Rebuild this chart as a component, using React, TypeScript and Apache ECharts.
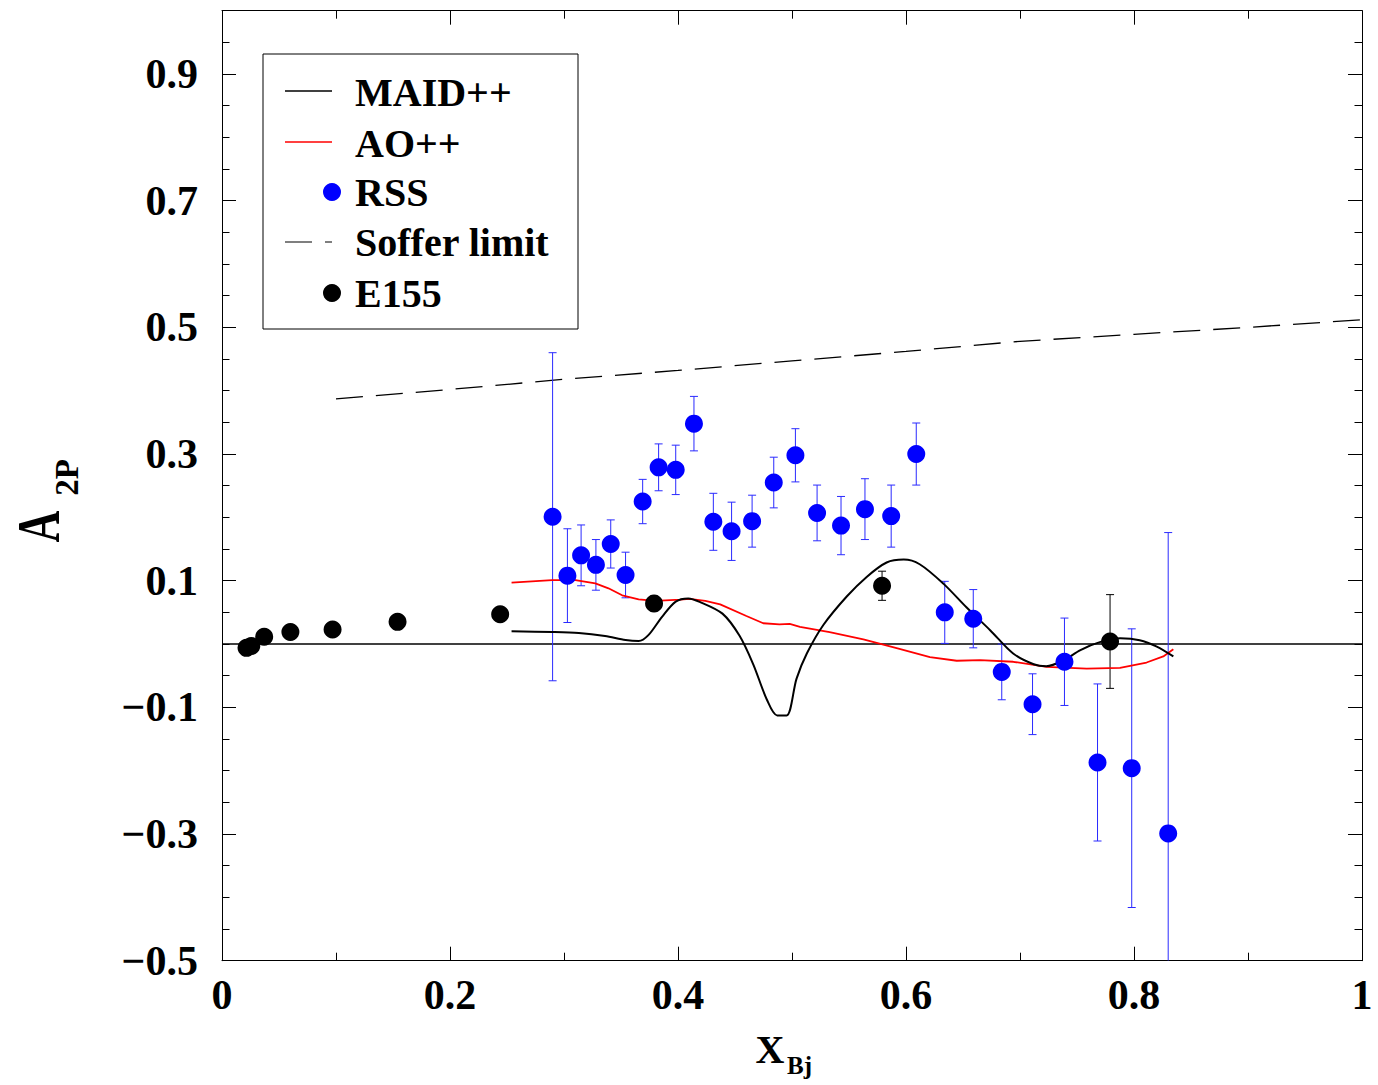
import React, { useEffect, useRef } from "react";
import * as echarts from "echarts";

// ---- tick labels ----
const xTickStep = 0.2;
const yTickLabels = [-0.5, -0.3, -0.1, 0.1, 0.3, 0.5, 0.7, 0.9];

// ---- RSS data ----
const rssX = [0.29, 0.303, 0.315, 0.328, 0.341, 0.354, 0.369, 0.383, 0.398, 0.414, 0.431, 0.447, 0.465, 0.484, 0.503, 0.522, 0.543, 0.564, 0.587, 0.609, 0.634, 0.659, 0.684, 0.711, 0.739, 0.768, 0.798, 0.83];
const rssY = [0.201, 0.108, 0.14, 0.125, 0.158, 0.109, 0.225, 0.279, 0.275, 0.348, 0.193, 0.178, 0.194, 0.255, 0.298, 0.207, 0.187, 0.213, 0.202, 0.3, 0.05, 0.04, -0.044, -0.095, -0.028, -0.187, -0.196, -0.299];
const rssErr = [0.259, 0.074, 0.048, 0.04, 0.038, 0.036, 0.035, 0.037, 0.039, 0.043, 0.045, 0.046, 0.041, 0.04, 0.042, 0.044, 0.046, 0.048, 0.049, 0.049, 0.049, 0.046, 0.044, 0.048, 0.069, 0.124, 0.22, 0.475];

// ---- E155 data ----
const e155X = [0.0215, 0.0257, 0.037, 0.06, 0.097, 0.154, 0.244, 0.379, 0.579, 0.779];
const e155Y = [-0.006, -0.003, 0.0115, 0.019, 0.023, 0.035, 0.047, 0.064, 0.092, 0.004];
const e155Err = [0.004, 0.004, 0.005, 0.006, 0.007, 0.008, 0.01, 0.012, 0.023, 0.074];

// ---- MAID++ curve ----
const maidX = [0.254, 0.29, 0.313, 0.336, 0.354, 0.3655, 0.374, 0.386, 0.398, 0.409, 0.419, 0.439, 0.454, 0.466, 0.478, 0.487, 0.4953, 0.504, 0.513, 0.5275, 0.548, 0.5655, 0.583, 0.598, 0.612, 0.633, 0.653, 0.674, 0.694, 0.712, 0.723, 0.738, 0.753, 0.77, 0.788, 0.805, 0.82, 0.8345];
const maidY = [0.02, 0.019, 0.0174, 0.0126, 0.0063, 0.0047, 0.014, 0.043, 0.067, 0.072, 0.0666, 0.048, 0.013, -0.032, -0.088, -0.1127, -0.1127, -0.0546, -0.015, 0.03, 0.075, 0.106, 0.1287, 0.1333, 0.126, 0.095, 0.058, 0.0215, -0.015, -0.032, -0.035, -0.026, -0.0095, 0.003, 0.009, 0.006, -0.004, -0.0196];

// ---- AO++ curve ----
const aoX = [0.254, 0.2895, 0.31, 0.3275, 0.339, 0.351, 0.3655, 0.38, 0.402, 0.41, 0.424, 0.437, 0.46, 0.4748, 0.489, 0.498, 0.507, 0.533, 0.5626, 0.5918, 0.621, 0.6445, 0.665, 0.694, 0.7234, 0.7585, 0.7877, 0.811, 0.8257, 0.8345];
const aoY = [0.097, 0.101, 0.101, 0.0958, 0.088, 0.077, 0.0705, 0.068, 0.07, 0.0712, 0.068, 0.0627, 0.0442, 0.0328, 0.031, 0.0317, 0.0272, 0.0188, 0.0075, -0.0066, -0.0207, -0.0264, -0.0253, -0.028, -0.036, -0.0388, -0.0377, -0.0292, -0.0196, -0.0084];

// ---- Soffer limit ----
const sofferX = [0.1, 0.2, 0.3, 0.4, 0.5, 0.6, 0.7, 0.8, 0.9, 1.0];
const sofferY = [0.387, 0.402, 0.418, 0.432, 0.447, 0.462, 0.478, 0.489, 0.5, 0.512];

// ---- zero line ----
const zeroX = [0, 1];
const zeroY = [0, 0];

const Y_MIN = -0.5;
const Y_MAX = 1.0;

const FONT = '"Liberation Serif", "Times New Roman", serif';

function zip2(a: number[], b: number[]) {
  return a.map((v, i) => [v, b[i]]);
}
function zip3(a: number[], b: number[], c: number[]) {
  return a.map((v, i) => [v, b[i], c[i]]);
}

function errorBarRenderer(color: string) {
  return (params: any, api: any) => {
    const x = api.value(0);
    const y = api.value(1);
    const e = api.value(2);
    const hiV = Math.min(y + e, Y_MAX);
    const loV = Math.max(y - e, Y_MIN);
    const top = api.coord([x, hiV]);
    const bot = api.coord([x, loV]);
    const hw = 4;
    const st = { stroke: color, lineWidth: 1 };
    const children: any[] = [
      { type: "line", shape: { x1: top[0], y1: top[1], x2: bot[0], y2: bot[1] }, style: st },
    ];
    if (y + e <= Y_MAX) {
      children.push({ type: "line", shape: { x1: top[0] - hw, y1: top[1], x2: top[0] + hw, y2: top[1] }, style: st });
    }
    if (y - e >= Y_MIN) {
      children.push({ type: "line", shape: { x1: bot[0] - hw, y1: bot[1], x2: bot[0] + hw, y2: bot[1] }, style: st });
    }
    return { type: "group", children };
  };
}

export default function App() {
  const ref = useRef<HTMLDivElement>(null);

  useEffect(() => {
    if (!ref.current) return;
    const chart = echarts.init(ref.current, null, { renderer: "svg" });

    const labelStyle = {
      fontFamily: FONT,
      fontWeight: "bold" as const,
      fontSize: 42,
      color: "#000",
    };
    const lineStyle = { color: "#000", width: 1 };
    const axisLineOn = { show: true, onZero: false, lineStyle };
    const axisLineOff = { show: false, onZero: false };

    const legendFont = `bold 40px ${FONT}`;
    const legendItems = [
      { label: "MAID++", y: 92 },
      { label: "AO++", y: 143 },
      { label: "RSS", y: 192 },
      { label: "Soffer limit", y: 242 },
      { label: "E155", y: 293 },
    ];

    const yBase = {
      type: "value",
      min: Y_MIN,
      max: Y_MAX,
      interval: 0.05,
      splitLine: { show: false },
      offset: 0,
    };

    const option: any = {
      animation: false,
      backgroundColor: "#fff",
      grid: { left: 222, right: 16, top: 10.7, bottom: 124.3, containLabel: false },
      xAxis: [
        {
          type: "value",
          position: "bottom",
          offset: 0,
          min: 0,
          max: 1,
          interval: xTickStep,
          axisLine: axisLineOn,
          axisTick: { show: true, inside: true, length: 14, lineStyle },
          minorTick: { show: true, splitNumber: 2, length: 8, lineStyle },
          splitLine: { show: false },
          minorSplitLine: { show: false },
          axisLabel: {
            ...labelStyle,
            margin: 13,
            formatter: (v: number) => (v === 0 ? "0" : v === 1 ? "1" : String(Number(v.toFixed(1)))),
          },
        },
        {
          type: "value",
          position: "top",
          offset: 0,
          min: 0,
          max: 1,
          interval: xTickStep,
          axisLine: axisLineOn,
          axisTick: { show: true, inside: true, length: 14, lineStyle },
          minorTick: { show: true, splitNumber: 2, length: 8, lineStyle },
          splitLine: { show: false },
          minorSplitLine: { show: false },
          axisLabel: { show: false },
        },
      ],
      yAxis: [
        {
          ...yBase,
          position: "left",
          axisLine: axisLineOn,
          axisTick: { show: true, inside: true, length: 14, lineStyle, customValues: yTickLabels },
          axisLabel: {
            ...labelStyle,
            margin: 24,
            customValues: yTickLabels,
            formatter: (v: number) => {
              const s = Math.abs(v).toFixed(1);
              return v < 0 ? "\u2212" + s : s;
            },
          },
        },
        {
          ...yBase,
          position: "left",
          axisLine: axisLineOff,
          axisTick: { show: true, inside: true, length: 7.5, lineStyle },
          axisLabel: { show: false },
        },
        {
          ...yBase,
          position: "right",
          axisLine: axisLineOn,
          axisTick: { show: true, inside: true, length: 14, lineStyle, customValues: yTickLabels },
          axisLabel: { show: false },
        },
        {
          ...yBase,
          position: "right",
          axisLine: axisLineOff,
          axisTick: { show: true, inside: true, length: 7.5, lineStyle },
          axisLabel: { show: false },
        },
      ],
      series: [
        {
          name: "zero",
          type: "line",
          data: zip2(zeroX, zeroY),
          symbol: "none",
          lineStyle: { color: "#000", width: 1.5 },
          silent: true,
          z: 1,
        },
        {
          name: "Soffer limit",
          type: "line",
          data: zip2(sofferX, sofferY),
          symbol: "none",
          lineStyle: { color: "#000", width: 1.3, type: [27, 13] },
          silent: true,
          z: 2,
        },
        {
          name: "RSS err",
          type: "custom",
          data: zip3(rssX, rssY, rssErr),
          renderItem: errorBarRenderer("#2a2aff"),
          clip: true,
          silent: true,
          z: 3,
        },
        {
          name: "E155 err",
          type: "custom",
          data: zip3(e155X, e155Y, e155Err),
          renderItem: errorBarRenderer("#000"),
          clip: true,
          silent: true,
          z: 3,
        },
        {
          name: "AO++",
          type: "line",
          data: zip2(aoX, aoY),
          symbol: "none",
          lineStyle: { color: "#ff0000", width: 1.8 },
          silent: true,
          z: 4,
        },
        {
          name: "MAID++",
          type: "line",
          data: zip2(maidX, maidY),
          symbol: "none",
          smooth: 0.3,
          lineStyle: { color: "#000", width: 2 },
          silent: true,
          z: 4,
        },
        {
          name: "RSS",
          type: "scatter",
          data: zip2(rssX, rssY),
          symbol: "circle",
          symbolSize: 18,
          itemStyle: { color: "#0000ff", opacity: 1 },
          silent: true,
          z: 5,
        },
        {
          name: "E155",
          type: "scatter",
          data: zip2(e155X, e155Y),
          symbol: "circle",
          symbolSize: 18,
          itemStyle: { color: "#000", opacity: 1 },
          silent: true,
          z: 5,
        },
      ],
      graphic: [
        {
          type: "rect",
          shape: { x: 263, y: 54, width: 315, height: 275 },
          style: { fill: "#fff", stroke: "#000", lineWidth: 1 },
          z: 100,
        },
        { type: "line", shape: { x1: 285, y1: 91, x2: 332, y2: 91 }, style: { stroke: "#000", lineWidth: 1.5 }, z: 101 },
        { type: "line", shape: { x1: 285, y1: 142, x2: 332, y2: 142 }, style: { stroke: "#ff0000", lineWidth: 1.5 }, z: 101 },
        { type: "circle", shape: { cx: 332, cy: 192, r: 9 }, style: { fill: "#0000ff" }, z: 101 },
        { type: "line", shape: { x1: 285, y1: 242, x2: 332, y2: 242 }, style: { stroke: "#000", lineWidth: 1.2, lineDash: [27, 13] }, z: 101 },
        { type: "circle", shape: { cx: 332, cy: 293, r: 9 }, style: { fill: "#000" }, z: 101 },
        ...legendItems.map((it) => ({
          type: "text",
          x: 355,
          y: it.y,
          z: 101,
          style: {
            text: it.label,
            font: legendFont,
            fill: "#000",
            textAlign: "left",
            textVerticalAlign: "middle",
            align: "left",
            verticalAlign: "middle",
          },
        })),
        // y-axis title A_2P
        {
          type: "text",
          x: 38.5,
          y: 526.5,
          rotation: Math.PI / 2,
          scaleY: 1.4,
          z: 50,
          style: {
            text: "A",
            font: `bold 44px ${FONT}`,
            fill: "#000",
            textAlign: "center",
            textVerticalAlign: "middle",
            align: "center",
            verticalAlign: "middle",
          },
        },
        {
          type: "text",
          x: 67,
          y: 477.5,
          rotation: Math.PI / 2,
          z: 50,
          style: {
            text: "2P",
            font: `bold 33px ${FONT}`,
            fill: "#000",
            textAlign: "center",
            textVerticalAlign: "middle",
            align: "center",
            verticalAlign: "middle",
          },
        },
        // x-axis title X_Bj
        {
          type: "text",
          x: 770,
          y: 1049,
          z: 50,
          style: {
            text: "X",
            font: `bold 40px ${FONT}`,
            fill: "#000",
            textAlign: "center",
            textVerticalAlign: "middle",
            align: "center",
            verticalAlign: "middle",
          },
        },
        {
          type: "text",
          x: 799.5,
          y: 1065.5,
          z: 50,
          style: {
            text: "Bj",
            font: `bold 25px ${FONT}`,
            fill: "#000",
            textAlign: "center",
            textVerticalAlign: "middle",
            align: "center",
            verticalAlign: "middle",
          },
        },
      ],
    };

    chart.setOption(option);
    return () => {
      chart.dispose();
    };
  }, []);

  return (
    <div
      ref={ref}
      style={{ position: "absolute", left: 0, top: 0, width: 1378, height: 1085, background: "#fff" }}
    />
  );
}
